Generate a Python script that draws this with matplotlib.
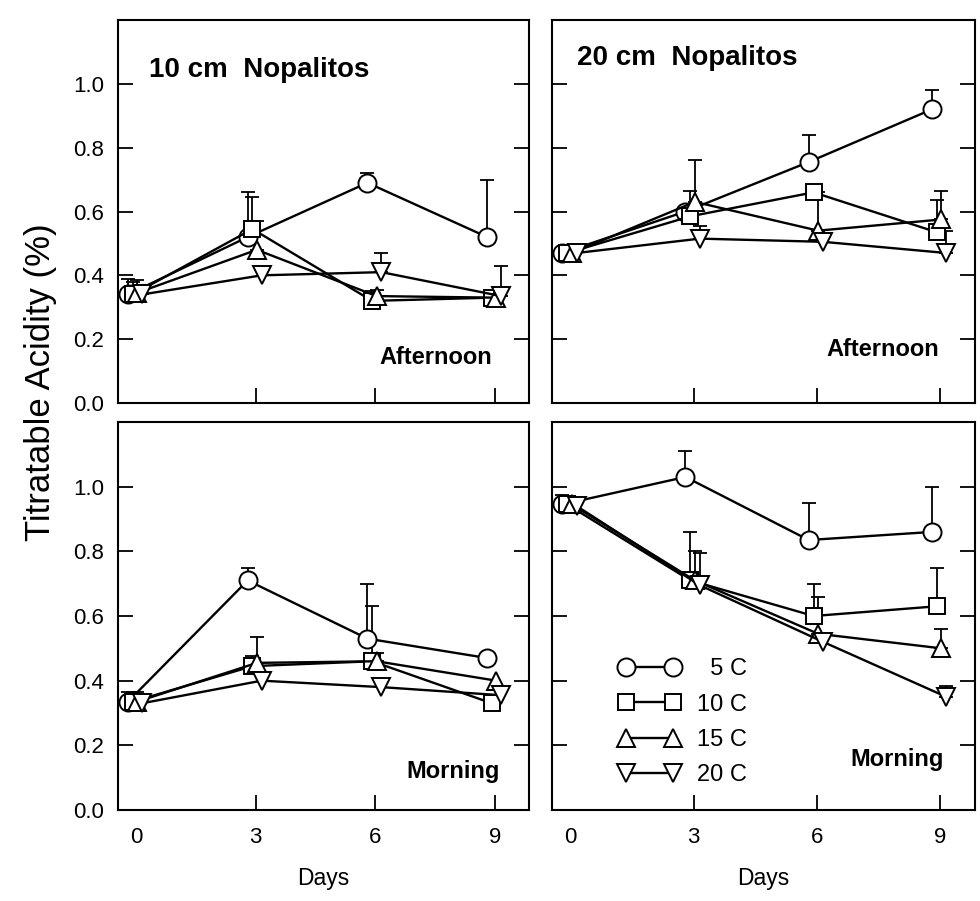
import matplotlib
matplotlib.use("Agg")
import matplotlib.pyplot as plt
import numpy as np

plt.rcParams['font.family'] = ['Liberation Sans', 'DejaVu Sans']

# ---------------- data ----------------
days = [0, 3, 6, 9]
series_labels = ["  5 C", "10 C", "15 C", "20 C"]

# 10 cm, afternoon
a10_5 = [0.34, 0.52, 0.69, 0.52]
a10_10 = [0.34, 0.545, 0.32, 0.33]
a10_15 = [0.345, 0.48, 0.335, 0.33]
a10_20 = [0.34, 0.40, 0.41, 0.335]
a10_5_err = [0.05, 0.14, 0.03, 0.18]
a10_10_err = [0.04, 0.10, 0.03, 0.0]
a10_15_err = [0.04, 0.09, 0.02, 0.0]
a10_20_err = [0.03, 0.0, 0.06, 0.095]

# 20 cm, afternoon
a20_5 = [0.47, 0.60, 0.755, 0.92]
a20_10 = [0.47, 0.585, 0.66, 0.535]
a20_15 = [0.47, 0.63, 0.54, 0.575]
a20_20 = [0.47, 0.515, 0.505, 0.47]
a20_5_err = [0.0, 0.0, 0.085, 0.06]
a20_10_err = [0.0, 0.08, 0.0, 0.10]
a20_15_err = [0.0, 0.13, 0.12, 0.09]
a20_20_err = [0.0, 0.04, 0.0, 0.07]

# 10 cm, morning
m10_5 = [0.335, 0.71, 0.53, 0.47]
m10_10 = [0.335, 0.445, 0.46, 0.33]
m10_15 = [0.335, 0.455, 0.46, 0.40]
m10_20 = [0.33, 0.40, 0.38, 0.355]
m10_5_err = [0.03, 0.04, 0.17, 0.01]
m10_10_err = [0.03, 0.03, 0.17, 0.0]
m10_15_err = [0.03, 0.08, 0.025, 0.0]
m10_20_err = [0.0, 0.0, 0.0, 0.0]

# 20 cm, morning
m20_5 = [0.945, 1.03, 0.835, 0.86]
m20_10 = [0.945, 0.71, 0.60, 0.63]
m20_15 = [0.945, 0.71, 0.545, 0.50]
m20_20 = [0.94, 0.695, 0.52, 0.35]
m20_5_err = [0.03, 0.08, 0.115, 0.14]
m20_10_err = [0.02, 0.15, 0.10, 0.12]
m20_15_err = [0.02, 0.09, 0.115, 0.06]
m20_20_err = [0.0, 0.10, 0.0, 0.035]

yticks = [0.0, 0.2, 0.4, 0.6, 0.8, 1.0]
xticks = [0, 3, 6, 9]

# ---------------- style ----------------
markers = ['o', 's', '^', 'v']
msizes = [13, 12, 13, 13]
x_offsets = [-0.2, -0.08, 0.03, 0.15]

W, H = 980, 901
fig = plt.figure(figsize=(W / 100, H / 100), dpi=100)


def axes_px(x0, x1, y0, y1):
    return fig.add_axes([x0 / W, 1 - y1 / H, (x1 - x0) / W, (y1 - y0) / H])


ax_tl = axes_px(118, 529, 20, 403)
ax_tr = axes_px(552, 975, 20, 403)
ax_bl = axes_px(118, 529, 422, 810)
ax_br = axes_px(552, 975, 422, 810)

panels = [
    (ax_tl, [a10_5, a10_10, a10_15, a10_20], [a10_5_err, a10_10_err, a10_15_err, a10_20_err]),
    (ax_tr, [a20_5, a20_10, a20_15, a20_20], [a20_5_err, a20_10_err, a20_15_err, a20_20_err]),
    (ax_bl, [m10_5, m10_10, m10_15, m10_20], [m10_5_err, m10_10_err, m10_15_err, m10_20_err]),
    (ax_br, [m20_5, m20_10, m20_15, m20_20], [m20_5_err, m20_10_err, m20_15_err, m20_20_err]),
]

handles = []
for ax, vals, errs in panels:
    for i, (v, e) in enumerate(zip(vals, errs)):
        x = np.array(days, dtype=float) + x_offsets[i]
        v = np.array(v)
        e = np.array(e)
        m = e > 0
        if m.any():
            ax.errorbar(x[m], v[m], yerr=[np.zeros(m.sum()), e[m]], fmt='none',
                        ecolor='black', elinewidth=1.3, capsize=5, capthick=1.3, zorder=1)
        h, = ax.plot(x, v, color='black', lw=1.7, marker=markers[i], ms=msizes[i],
                     mfc='white', mec='black', mew=1.4, zorder=2 + i * 0.1,
                     label=series_labels[i])
        if ax is ax_br:
            handles.append(h)

    ax.set_xlim(-0.45, 9.85)
    ax.set_ylim(0, 1.2)
    ax.set_yticks(yticks)
    ax.set_xticks(xticks)
    ax.tick_params(axis='both', direction='in', length=11, width=1.3,
                   top=False, right=True, labelsize=16)
    ax.xaxis.get_major_ticks()[0].tick1line.set_visible(False)
    for s in ax.spines.values():
        s.set_linewidth(1.5)

for ax in (ax_tl, ax_bl):
    ax.set_yticklabels([f"{t:.1f}" for t in yticks])
    ax.tick_params(axis='y', pad=10)
for ax in (ax_tr, ax_br):
    ax.tick_params(axis='y', labelleft=False)
for ax in (ax_tl, ax_tr):
    ax.tick_params(axis='x', labelbottom=False)
for ax in (ax_bl, ax_br):
    ax.tick_params(axis='x', pad=12)
    ax.set_xlabel("Days", fontsize=16.5, labelpad=14)

ax_tl.text(0.075, 0.87, "10 cm  Nopalitos", transform=ax_tl.transAxes,
           fontsize=20, fontweight='bold', va='center', ha='left')
ax_tr.text(0.06, 0.9, "20 cm  Nopalitos", transform=ax_tr.transAxes,
           fontsize=20, fontweight='bold', va='center', ha='left')
ax_tl.text(0.91, 0.12, "Afternoon", transform=ax_tl.transAxes,
           fontsize=17, fontweight='bold', va='center', ha='right')
ax_tr.text(0.915, 0.14, "Afternoon", transform=ax_tr.transAxes,
           fontsize=17, fontweight='bold', va='center', ha='right')
ax_bl.text(0.93, 0.1, "Morning", transform=ax_bl.transAxes,
           fontsize=17, fontweight='bold', va='center', ha='right')
ax_br.text(0.925, 0.13, "Morning", transform=ax_br.transAxes,
           fontsize=17, fontweight='bold', va='center', ha='right')

ax_br.legend(handles=handles, loc='lower left', bbox_to_anchor=(0.125, 0.025),
             frameon=False, fontsize=17, numpoints=2, handlelength=2.6,
             handletextpad=0.71, labelspacing=0.56, borderaxespad=0.2)

fig.text(0.041, 1 - 382 / H, "Titratable Acidity (%)", rotation=90, fontsize=25,
         va='center', ha='center')

fig.savefig("out.png", dpi=100)
